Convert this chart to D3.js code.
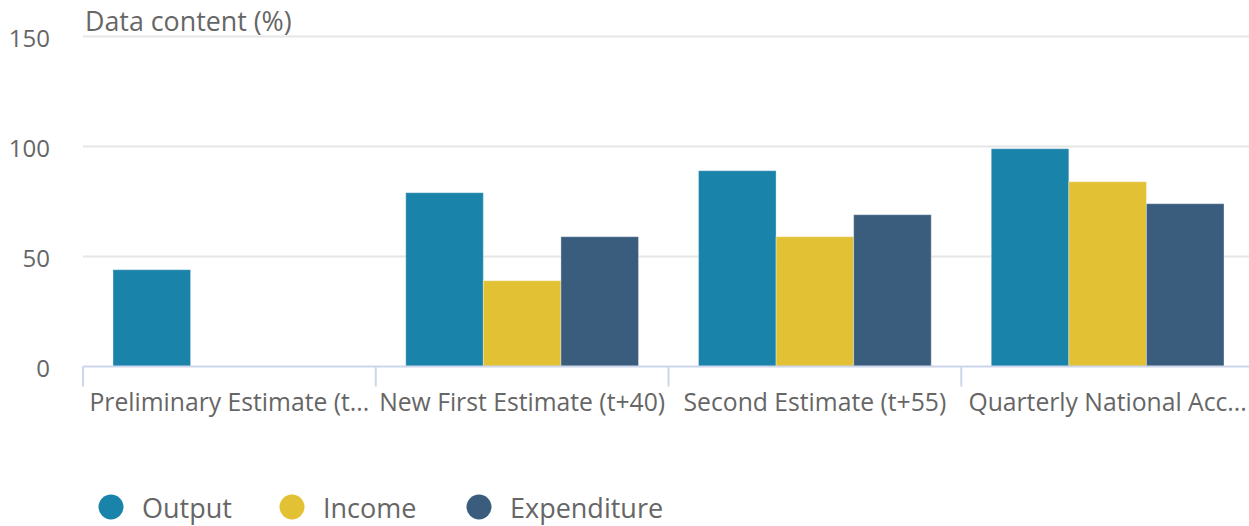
<!DOCTYPE html>
<html>
<head>
<meta charset="utf-8">
<script src="https://cdn.jsdelivr.net/npm/d3@7"></script>
<style>
    html, body { margin: 0; padding: 0; background: #ffffff; }
    svg { display: block; font-family: "Open Sans", sans-serif; }
</style>
</head>
<body>
<svg id="chart" width="1249" height="526"></svg>
<script>
// Chart data
var categories = [
    'Preliminary Estimate (t+25)',
    'New First Estimate (t+40)',
    'Second Estimate (t+55)',
    'Quarterly National Accounts (t+85)'
];
var seriesNames = ['Output', 'Income', 'Expenditure'];
var outputValues = [44, 79, 89, 99];
var incomeValues = [0, 39, 59, 84];
var expenditureValues = [0, 59, 69, 74];
var yTicks = [0, 50, 100, 150];
var axisTitle = 'Data content (%)';

var chart = (function () {
    "use strict";

    var seriesColors = ['#1a83a9', '#e2c135', '#3a5d7d'];
    var textColor = '#666666';

    function draw() {
        var svg = d3.select('#chart');
        var series = [outputValues, incomeValues, expenditureValues];

        var left = 83, right = 1254, top = 36.5, bottom = 366.5;

        var x = d3.scaleBand()
            .domain(categories)
            .range([left, right]);

        var y = d3.scaleLinear()
            .domain([0, 150])
            .range([bottom, top]);

        // inner scale for the three bars in each group
        var groupPad = 30;
        var xInner = d3.scaleBand()
            .domain(seriesNames)
            .range([0, x.bandwidth() - 2 * groupPad]);

        // Grid lines
        svg.append('g')
            .selectAll('line')
            .data(yTicks.filter(function (d) { return d > 0; }))
            .enter()
            .append('line')
            .attr('x1', left)
            .attr('x2', right)
            .attr('y1', function (d) { return y(d); })
            .attr('y2', function (d) { return y(d); })
            .attr('stroke', '#e6e6e6')
            .attr('stroke-width', 2);

        // Y labels
        svg.append('g')
            .selectAll('text')
            .data(yTicks)
            .enter()
            .append('text')
            .attr('x', 50)
            .attr('y', function (d) { return y(d) + 2; })
            .attr('dy', '0.35em')
            .attr('text-anchor', 'end')
            .attr('fill', textColor)
            .style('font-size', '24px')
            .text(function (d) { return d; });

        // Axis title
        svg.append('text')
            .attr('x', 85)
            .attr('y', 31)
            .attr('fill', textColor)
            .style('font-size', '26.8px')
            .text(axisTitle);

        // Bars
        series.forEach(function (values, si) {
            var points = values.map(function (v, i) {
                return { category: categories[i], value: v };
            }).filter(function (d) { return d.value > 0; });

            svg.append('g')
                .selectAll('rect')
                .data(points)
                .enter()
                .append('rect')
                .attr('x', function (d) { return x(d.category) + groupPad + xInner(seriesNames[si]); })
                .attr('y', function (d) { return y(d.value); })
                .attr('width', xInner.bandwidth())
                .attr('height', function (d) { return bottom - y(d.value); })
                .attr('fill', seriesColors[si])
                .attr('stroke', '#ffffff')
                .attr('stroke-opacity', 0.35)
                .attr('stroke-width', 1);
        });

        // X axis line and ticks
        var axis = svg.append('g');
        axis.append('line')
            .attr('x1', left)
            .attr('x2', right)
            .attr('y1', bottom)
            .attr('y2', bottom)
            .attr('stroke', '#ccd6eb')
            .attr('stroke-width', 2);

        axis.selectAll('line.tick')
            .data(categories)
            .enter()
            .append('line')
            .attr('class', 'tick')
            .attr('x1', function (d) { return x(d); })
            .attr('x2', function (d) { return x(d); })
            .attr('y1', bottom)
            .attr('y2', bottom + 20)
            .attr('stroke', '#ccd6eb')
            .attr('stroke-width', 2);

        // X labels, shortened with an ellipsis when too wide
        axis.selectAll('text')
            .data(categories)
            .enter()
            .append('text')
            .attr('x', function (d) { return x(d) + x.bandwidth() / 2; })
            .attr('y', 411)
            .attr('text-anchor', 'middle')
            .attr('fill', textColor)
            .style('font-size', '24.7px')
            .each(function (d) {
                var node = d3.select(this);
                var maxWidth = x.bandwidth();
                node.text(d);
                var label = d;
                while (this.getComputedTextLength() > maxWidth && label.length > 1) {
                    label = label.slice(0, -1);
                    node.text(label.replace(/\s+$/, '') + '...');
                }
            });

        // Legend
        var legendX = [111, 292, 479];
        var legend = svg.append('g');
        seriesNames.forEach(function (name, i) {
            legend.append('circle')
                .attr('cx', legendX[i])
                .attr('cy', 507)
                .attr('r', 12.5)
                .attr('fill', seriesColors[i]);

            legend.append('text')
                .attr('x', legendX[i] + 31)
                .attr('y', 509)
                .attr('dy', '0.35em')
                .attr('fill', textColor)
                .style('font-size', '27px')
                .text(name);
        });
    }

    return {
        draw: draw
    };
})();

chart.draw();
</script>
</body>
</html>
